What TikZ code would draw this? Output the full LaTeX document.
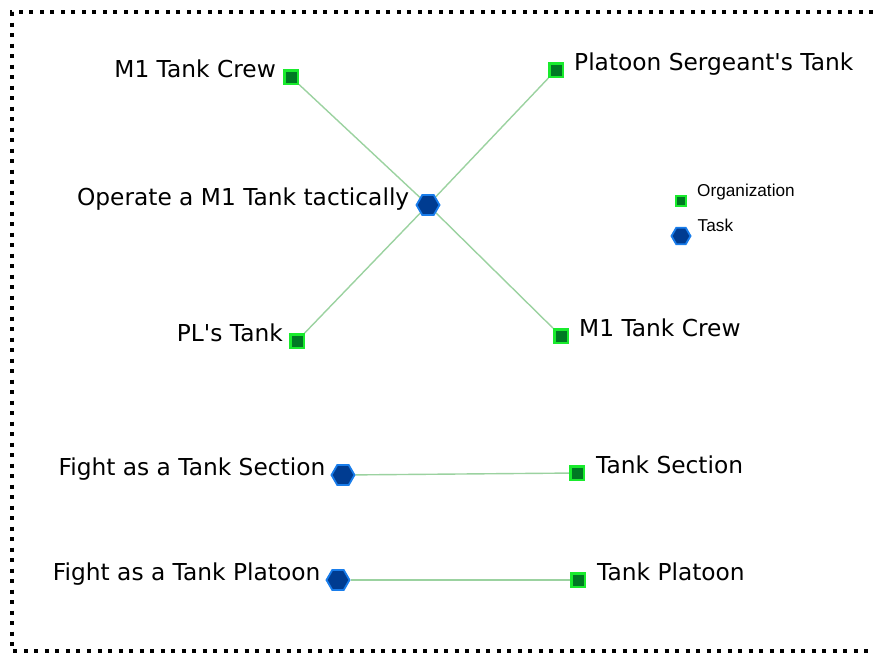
\documentclass[tikz,border=0pt]{standalone}
\usepackage{fontspec}
\setmainfont{DejaVu Sans}[Ligatures=TeXOff]
\newfontfamily\keyfont{Liberation Sans}
\usetikzlibrary{shapes.geometric,positioning,backgrounds}
\definecolor{orgfill}{RGB}{0,120,35}
\definecolor{orgline}{RGB}{25,235,45}
\definecolor{taskfill}{RGB}{0,60,145}
\definecolor{taskline}{RGB}{25,125,235}
\definecolor{edgegreen}{RGB}{155,210,160}
\begin{document}
\begin{tikzpicture}[x=1pt,y=-1pt,
    org/.style={rectangle,fill=orgfill,draw=orgline,line width=2.5pt,minimum size=13.5pt,inner sep=0pt},
    task/.style={regular polygon,regular polygon sides=6,fill=taskfill,draw=taskline,line width=1.8pt,minimum size=23pt,inner sep=0pt},
    txt/.style={font=\fontsize{23.3}{27}\selectfont,inner sep=0pt},
    key/.style={font=\keyfont\fontsize{17.2}{20}\selectfont,inner sep=0pt},
    link/.style={draw=edgegreen,line width=1.4pt}]
\useasboundingbox (0,0) rectangle (873,654);
\draw[line width=4pt,dash pattern=on 4pt off 6.5pt] (873,12) -- (12,12) -- (12,651) -- (873,651);
\node[task] (operate) at (428,205) {};
\node[org] (crewA) at (291,77) {};
\node[org] (sgt) at (556,70) {};
\node[org] (pl) at (297,341) {};
\node[org] (crewB) at (561,336) {};
\node[task] (fightsec) at (343,475) {};
\node[org] (sec) at (577,473) {};
\node[task] (fightplt) at (338,580) {};
\node[org] (plt) at (578,580) {};
\node[org,minimum size=10pt,line width=2pt] (keyorg) at (681,201) {};
\node[task,minimum size=19pt] (keytask) at (681,236) {};
\begin{scope}[on background layer]
\path[link] (crewA) -- (operate) -- (crewB);
\path[link] (sgt) -- (operate) -- (pl);
\path[link] (fightsec) -- (sec);
\path[link] (fightplt) -- (plt);
\end{scope}
\node[txt,left=7pt of crewA.west,anchor=base east] (crewAtext) {M1 Tank Crew};
\node[txt,right=10pt of sgt.east,anchor=base west] (sgttext) {Platoon Sergeant's Tank};
\node[txt,left=6pt of operate.west,anchor=base east] (operatetext) {Operate a M1 Tank tactically};
\node[txt,left=6pt of pl.west,anchor=base east] (pltext) {PL's Tank};
\node[txt,right=10pt of crewB.east,anchor=base west] (crewBtext) {M1 Tank Crew};
\node[txt,left=5pt of fightsec.west,anchor=base east] (fightsectext) {Fight as a Tank Section};
\node[txt,right=11pt of sec.east,anchor=base west] (sectext) {Tank Section};
\node[txt,left=5pt of fightplt.west,anchor=base east] (fightplttext) {Fight as a Tank Platoon};
\node[txt,right=11pt of plt.east,anchor=base west] (plttext) {Tank Platoon};
\node[key,right=10pt of keyorg.east,anchor=base west,yshift=5pt] (keyorgtext) {Organization};
\node[key,right=6pt of keytask.east,anchor=base west,yshift=5pt] (keytasktext) {Task};
\end{tikzpicture}
\end{document}
